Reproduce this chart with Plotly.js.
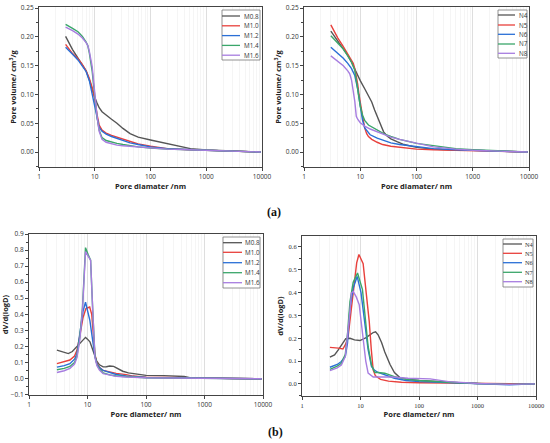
<!DOCTYPE html>
<html>
<head>
<meta charset="utf-8">
<script src="https://cdn.plot.ly/plotly-3.0.1.min.js"></script>
<style>html,body{margin:0;padding:0;background:#fff;}#chart{width:550px;height:443px;}</style>
</head>
<body>
<div id="chart"></div>
<script>
// ---------- DATA ----------
const colors = ['#555555', '#e8403c', '#2a6fd6', '#3aa66a', '#a77de0'];
const namesM = ['M0.8', 'M1.0', 'M1.2', 'M1.4', 'M1.6'];
const namesN = ['N4', 'N5', 'N6', 'N7', 'N8'];
const xTickVals = [1, 10, 100, 1000, 10000];
const xTickText = ['1', '10', '100', '1000', '10000'];

// (a) left: cumulative pore volume, M series
const pvM_x = [
  [3, 3.5, 4, 4.5, 5, 6, 7, 8, 9, 10, 11, 12, 13.5, 16, 20, 25, 32, 43, 60, 100, 150, 260, 520, 1000, 2000, 5000, 9500],
  [3, 3.5, 4, 5, 6, 7, 8, 9, 10, 11, 12, 13.5, 16, 20, 25, 32, 43, 60, 100, 200, 500, 1000, 3000, 9500],
  [3, 3.5, 4, 5, 6, 7, 8, 9, 10, 11, 12, 13.5, 16, 20, 25, 32, 43, 60, 100, 200, 500, 1000, 3000, 9500],
  [3, 3.5, 4, 5, 6, 7, 7.5, 8, 8.5, 9, 9.5, 10, 11, 12, 13.5, 16, 20, 25, 32, 43, 60, 100, 200, 500, 1000, 3000, 9500],
  [3, 3.5, 4, 5, 6, 7, 7.5, 8, 8.5, 9, 9.5, 10, 11, 12, 13.5, 16, 20, 25, 32, 43, 60, 100, 200, 500, 1000, 3000, 9500]
];
const pvM_y = [
  [0.201, 0.188, 0.178, 0.170, 0.163, 0.152, 0.141, 0.125, 0.108, 0.095, 0.085, 0.077, 0.070, 0.064, 0.057, 0.050, 0.041, 0.032, 0.026, 0.021, 0.017, 0.012, 0.006, 0.0035, 0.002, 0.001, 0.0],
  [0.187, 0.178, 0.171, 0.162, 0.152, 0.141, 0.128, 0.112, 0.092, 0.065, 0.047, 0.038, 0.033, 0.029, 0.026, 0.022, 0.018, 0.014, 0.010, 0.006, 0.004, 0.003, 0.0015, 0.0],
  [0.182, 0.176, 0.170, 0.160, 0.150, 0.140, 0.124, 0.100, 0.075, 0.055, 0.043, 0.036, 0.031, 0.027, 0.024, 0.020, 0.016, 0.013, 0.009, 0.006, 0.004, 0.003, 0.0015, 0.0],
  [0.222, 0.219, 0.215, 0.209, 0.201, 0.191, 0.185, 0.172, 0.158, 0.140, 0.118, 0.095, 0.060, 0.038, 0.025, 0.020, 0.017, 0.015, 0.013, 0.011, 0.009, 0.007, 0.005, 0.004, 0.003, 0.0015, 0.0],
  [0.217, 0.214, 0.211, 0.205, 0.198, 0.190, 0.185, 0.175, 0.163, 0.148, 0.125, 0.100, 0.062, 0.036, 0.022, 0.017, 0.014, 0.012, 0.011, 0.010, 0.008, 0.007, 0.005, 0.004, 0.003, 0.0015, 0.0]
];

// (a) right: cumulative pore volume, N series
const pvN_x = [
  [3, 4, 5, 6, 7, 8, 9, 10, 12, 14, 16, 18, 20, 23, 26, 30, 35, 45, 60, 100, 200, 500, 1000, 3000, 9500],
  [3, 4, 5, 6, 7, 7.5, 8, 8.5, 9, 9.5, 10, 11, 12, 13, 14, 16, 20, 25, 35, 50, 100, 200, 500, 1000, 3000, 9500],
  [3, 4, 5, 6, 7, 8, 9, 10, 11, 12, 13, 15, 20, 25, 35, 50, 100, 200, 500, 1000, 3000, 9500],
  [3, 4, 5, 6, 7, 8, 9, 10, 11, 12, 14, 17, 20, 27, 35, 50, 100, 200, 500, 1000, 3000, 9500],
  [3, 4, 5, 6, 6.5, 7, 7.5, 8, 8.5, 9, 10, 12, 15, 20, 27, 35, 50, 100, 200, 500, 1000, 3000, 9500]
];
const pvN_y = [
  [0.210, 0.193, 0.180, 0.168, 0.156, 0.143, 0.133, 0.124, 0.110, 0.098, 0.087, 0.073, 0.062, 0.046, 0.035, 0.028, 0.023, 0.018, 0.013, 0.008, 0.005, 0.003, 0.003, 0.0015, 0.0],
  [0.221, 0.198, 0.183, 0.171, 0.160, 0.154, 0.145, 0.134, 0.118, 0.100, 0.085, 0.062, 0.042, 0.032, 0.027, 0.022, 0.017, 0.013, 0.010, 0.008, 0.005, 0.004, 0.003, 0.002, 0.001, 0.0],
  [0.182, 0.172, 0.163, 0.154, 0.145, 0.133, 0.110, 0.080, 0.055, 0.042, 0.037, 0.030, 0.024, 0.021, 0.016, 0.013, 0.009, 0.006, 0.004, 0.003, 0.0015, 0.0],
  [0.202, 0.190, 0.179, 0.167, 0.156, 0.142, 0.110, 0.080, 0.064, 0.055, 0.047, 0.042, 0.038, 0.031, 0.027, 0.022, 0.015, 0.011, 0.006, 0.004, 0.002, 0.0],
  [0.167, 0.158, 0.150, 0.141, 0.136, 0.125, 0.107, 0.088, 0.062, 0.057, 0.051, 0.045, 0.040, 0.035, 0.030, 0.026, 0.022, 0.016, 0.009, 0.005, 0.003, 0.0015, 0.0]
];

// (b) left: dV/d(logD), M series
const psdM_x = [
  [3, 3.5, 4, 4.7, 5.5, 6.2, 7, 8, 9.25, 10, 11, 12, 13, 14.3, 16, 18.5, 21, 24, 28, 33, 40, 50, 70, 100, 200, 335, 450, 560, 1000, 3000, 9500],
  [3, 4, 5, 6, 6.6, 7.5, 8.4, 9.4, 10.9, 11.8, 12.6, 13.4, 14.5, 16, 18.5, 24, 31, 46, 60, 100, 300, 1000, 3000, 9500],
  [3, 4, 5, 6, 6.6, 7.5, 8.4, 9.25, 10, 11, 12, 13.4, 14.5, 16, 18.5, 24, 31, 46, 100, 300, 1000, 9500],
  [3, 4, 5, 6, 6.6, 7.4, 8.2, 8.7, 9.25, 10.3, 11.3, 12.3, 13.4, 14.5, 16, 18.5, 24, 31, 46, 100, 300, 1000, 9500],
  [3, 4, 5, 6, 6.6, 7.4, 8.2, 8.7, 9.25, 10.3, 11.3, 12.3, 13.4, 14.5, 16, 18.5, 24, 31, 46, 100, 300, 1000, 9500]
];
const psdM_y = [
  [0.177, 0.168, 0.160, 0.155, 0.168, 0.188, 0.210, 0.235, 0.256, 0.245, 0.228, 0.190, 0.150, 0.110, 0.085, 0.072, 0.073, 0.078, 0.075, 0.063, 0.045, 0.035, 0.025, 0.019, 0.018, 0.017, 0.012, 0.005, 0.002, 0.0, -0.002],
  [0.092, 0.103, 0.115, 0.140, 0.175, 0.280, 0.380, 0.435, 0.445, 0.400, 0.280, 0.150, 0.095, 0.070, 0.050, 0.040, 0.032, 0.024, 0.015, 0.008, 0.005, 0.002, 0.0, -0.002],
  [0.071, 0.080, 0.092, 0.120, 0.154, 0.300, 0.420, 0.475, 0.430, 0.360, 0.260, 0.140, 0.090, 0.068, 0.050, 0.035, 0.025, 0.015, 0.006, 0.004, 0.001, -0.002],
  [0.054, 0.063, 0.075, 0.100, 0.140, 0.260, 0.440, 0.640, 0.815, 0.770, 0.737, 0.420, 0.140, 0.085, 0.060, 0.035, 0.022, 0.015, 0.010, 0.004, 0.003, 0.001, -0.002],
  [0.037, 0.048, 0.062, 0.090, 0.130, 0.240, 0.425, 0.620, 0.790, 0.760, 0.737, 0.420, 0.130, 0.080, 0.052, 0.030, 0.020, 0.013, 0.009, 0.004, 0.003, 0.001, -0.002]
];

// (b) right: dV/d(logD), N series
const psdN_x = [
  [3, 3.6, 4.2, 4.7, 5.6, 6.6, 7.9, 9.75, 12, 14.5, 16.5, 18.1, 20, 23, 26, 32, 38, 47, 60, 100, 245, 500, 1000, 3000, 9500],
  [3, 3.6, 4.2, 5, 5.6, 6.15, 7, 8, 8.6, 9.4, 10.2, 11.1, 12.5, 14.1, 15.3, 16.5, 18, 22, 30, 50, 100, 300, 1000, 9500],
  [3, 4, 4.7, 5.5, 6, 6.56, 7.5, 8.77, 10.2, 11.9, 13.5, 15.4, 17.2, 20, 26, 38, 60, 100, 300, 1000, 3500, 9500],
  [3, 4, 4.7, 5.5, 6, 6.6, 7.5, 8.9, 10.8, 12, 13.5, 15.5, 17.6, 20, 26, 38, 60, 100, 300, 1000, 3500, 9500],
  [3, 4, 4.7, 5.5, 6.5, 7.0, 7.5, 8.5, 9.5, 11.1, 12.3, 13.5, 16.5, 20, 34, 65, 155, 320, 1000, 3500, 9500]
];
const psdN_y = [
  [0.117, 0.127, 0.150, 0.171, 0.198, 0.200, 0.193, 0.190, 0.200, 0.215, 0.225, 0.228, 0.215, 0.180, 0.140, 0.085, 0.050, 0.028, 0.022, 0.015, 0.008, 0.005, 0.002, 0.0, 0.0],
  [0.160, 0.160, 0.157, 0.153, 0.175, 0.208, 0.330, 0.460, 0.530, 0.567, 0.545, 0.527, 0.400, 0.274, 0.150, 0.060, 0.035, 0.020, 0.012, 0.007, 0.005, 0.004, 0.001, 0.0],
  [0.073, 0.085, 0.098, 0.120, 0.180, 0.325, 0.420, 0.471, 0.400, 0.267, 0.150, 0.076, 0.061, 0.050, 0.040, 0.025, 0.015, 0.010, 0.006, 0.002, -0.004, 0.0],
  [0.064, 0.078, 0.090, 0.130, 0.220, 0.360, 0.445, 0.486, 0.413, 0.300, 0.164, 0.080, 0.050, 0.050, 0.047, 0.032, 0.020, 0.015, 0.007, 0.002, -0.002, 0.0],
  [0.058, 0.070, 0.083, 0.120, 0.300, 0.398, 0.405, 0.380, 0.347, 0.193, 0.100, 0.047, 0.030, 0.030, 0.030, 0.025, 0.022, 0.010, 0.002, -0.002, 0.0]
];

// ---------- LAYOUT HELPERS ----------
const W = 550, H = 443;
const px = v => v / W;
const py = v => 1 - v / H;

const panels = [
  {xs: pvM_x, ys: pvM_y, names: namesM, ax: '', box: [39, 262, 7, 167], yr: [-0.026, 0.252], ydt: 0.05, yfmt: '.2f',
   ytitle: '<b>Pore volume/ cm<sup>3</sup>/g</b>', xtitle: '<b>Pore diamater /nm</b>',
   leg: {l: 222, r: 260, t: 10, b: 60, lx0: 222, lx1: 240, tx: 242, ys: [16, 25.8, 35.6, 45.4, 55.2]}, font: 'Open Sans'},
  {xs: pvN_x, ys: pvN_y, names: namesN, ax: '2', box: [304, 529, 7, 167], yr: [-0.026, 0.252], ydt: 0.05, yfmt: '.2f',
   ytitle: '<b>Pore volume/ cm<sup>3</sup>/g</b>', xtitle: '<b>Pore diamater/ nm</b>',
   leg: {l: 498, r: 527, t: 10, b: 58, lx0: 498, lx1: 515, tx: 517, ys: [15, 25, 34.3, 44, 53.3]}, font: 'Open Sans'},
  {xs: psdM_x, ys: psdM_y, names: namesM, ax: '3', box: [29, 263, 234, 395], yr: [-0.103, 0.9], ydt: 0.1, yfmt: '.1f',
   ytitle: '<b>dV/d(logD)</b>', xtitle: '<b>Pore diameter/ nm</b>',
   leg: {l: 223, r: 260, t: 237, b: 288, lx0: 223, lx1: 242, tx: 243, ys: [242.7, 252.3, 262.7, 272.7, 282.7]}, font: 'Open Sans'},
  {xs: psdN_x, ys: psdN_y, names: namesN, ax: '4', box: [302, 536, 236, 396], yr: [-0.053, 0.648], ydt: 0.1, yfmt: '.1f',
   ytitle: '<b>dV/d(logD)</b>', xtitle: '<b>Pore diameter/ nm</b>',
   leg: {l: 503, r: 533, t: 239, b: 287, lx0: 503, lx1: 522, tx: 523, ys: [244, 253.3, 262.7, 272.3, 281.7]}, font: 'Liberation Serif'}
];

const data = [];
const layout = {
  width: W, height: H,
  margin: {l: 0, r: 0, t: 0, b: 0},
  paper_bgcolor: '#fff', plot_bgcolor: '#fff',
  showlegend: false,
  font: {family: 'Open Sans, sans-serif', size: 7, color: '#333'},
  shapes: [], annotations: []
};

panels.forEach(p => {
  p.names.forEach((nm, i) => {
    data.push({
      x: p.xs[i], y: p.ys[i], name: nm, type: 'scatter', mode: 'lines',
      xaxis: 'x' + p.ax, yaxis: 'y' + p.ax,
      line: {color: colors[i], width: 1.4}
    });
  });
  const [l, r, t, b] = p.box;
  layout['xaxis' + p.ax] = {
    type: 'log', range: [0, 4], domain: [px(l), px(r)], anchor: 'y' + p.ax,
    tickvals: xTickVals, ticktext: xTickText,
    showgrid: true, gridcolor: '#d8d8d8', gridwidth: 0.8,
    minor: {dtick: 'D1', showgrid: true, gridcolor: '#efefef', gridwidth: 0.6, ticks: ''},
    showline: true, linecolor: '#444', linewidth: 1, mirror: true,
    ticks: 'outside', ticklen: 3, tickcolor: '#444',
    tickfont: {size: 6.5, family: p.font, color: '#333'},
    zeroline: false,
    title: {text: p.xtitle, font: {size: 7.5, color: '#222'}, standoff: 3},
    automargin: false, fixedrange: true
  };
  layout['yaxis' + p.ax] = {
    range: p.yr, domain: [py(b), py(t)], anchor: 'x' + p.ax,
    dtick: p.ydt, tick0: 0, tickformat: p.yfmt,
    showgrid: false, zeroline: false,
    showline: true, linecolor: '#444', linewidth: 1, mirror: true,
    ticks: 'outside', ticklen: 3, tickcolor: '#444',
    minor: {dtick: p.ydt / 2, ticks: 'outside', ticklen: 2, tickcolor: '#444'},
    tickfont: {size: 6.5, family: p.font, color: '#333'},
    title: {text: p.ytitle, font: {size: 7.5, color: '#222'}, standoff: 3},
    automargin: false, fixedrange: true
  };
  // manual compact legend
  const g = p.leg;
  layout.shapes.push({type: 'rect', xref: 'paper', yref: 'paper',
    x0: px(g.l), x1: px(g.r), y0: py(g.b), y1: py(g.t),
    line: {color: '#777', width: 0.8}, fillcolor: '#fff', layer: 'above'});
  p.names.forEach((nm, i) => {
    layout.shapes.push({type: 'line', xref: 'paper', yref: 'paper',
      x0: px(g.lx0), x1: px(g.lx1), y0: py(g.ys[i]), y1: py(g.ys[i]),
      line: {color: colors[i], width: 1.3}, layer: 'above'});
    layout.annotations.push({xref: 'paper', yref: 'paper', x: px(g.tx), y: py(g.ys[i]),
      xanchor: 'left', yanchor: 'middle', showarrow: false, text: nm,
      font: {size: 6.3, family: p.font, color: '#333'}});
  });
});

layout.annotations.push({xref: 'paper', yref: 'paper', x: px(274), y: py(212), showarrow: false,
  text: '<b>(a)</b>', font: {size: 12, family: 'Liberation Serif, serif', color: '#111'}, xanchor: 'center', yanchor: 'middle'});
layout.annotations.push({xref: 'paper', yref: 'paper', x: px(275), y: py(432), showarrow: false,
  text: '<b>(b)</b>', font: {size: 12, family: 'Liberation Serif, serif', color: '#111'}, xanchor: 'center', yanchor: 'middle'});

Plotly.newPlot('chart', data, layout, {displayModeBar: false, staticPlot: true});
</script>
</body>
</html>
